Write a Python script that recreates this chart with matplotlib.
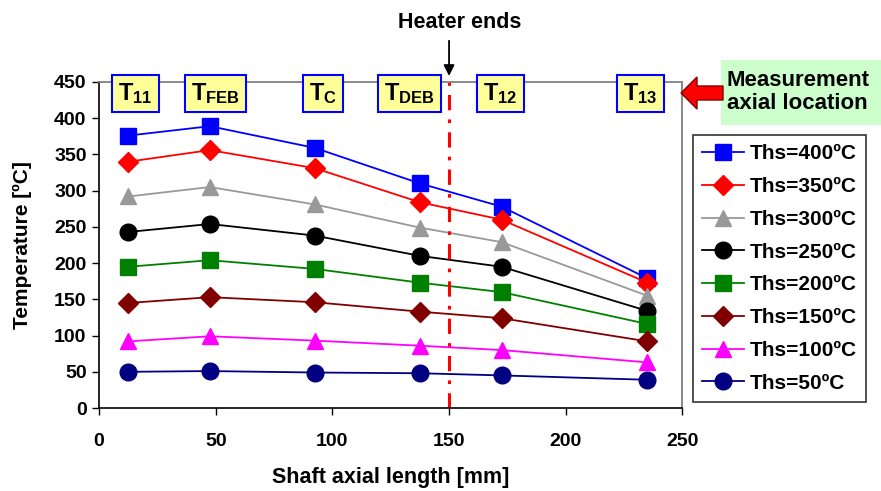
import numpy as np
import matplotlib
matplotlib.use("Agg")
import matplotlib.pyplot as plt
from matplotlib.patches import FancyArrow

plt.rcParams['font.family'] = ['Liberation Sans', 'DejaVu Sans']
plt.rcParams['font.weight'] = 'bold'
plt.rcParams['mathtext.fontset'] = 'custom'
plt.rcParams['mathtext.rm'] = 'Liberation Sans:bold'
plt.rcParams['mathtext.bf'] = 'Liberation Sans:bold'
plt.rcParams['mathtext.it'] = 'Liberation Sans:bold'

# axial positions of the thermocouples [mm]
axial_pos = [12.5, 47.5, 92.5, 137.5, 172.5, 235]

# measured temperatures for each heater setpoint [degC]
t_400 = [376, 389, 359, 310, 278, 179]
t_350 = [340, 356, 331, 284, 260, 173]
t_300 = [292, 305, 281, 249, 229, 155]
t_250 = [243, 254, 238, 210, 195, 134]
t_200 = [195, 204, 192, 173, 160, 116]
t_150 = [145, 153, 146, 133, 124, 92]
t_100 = [92, 99, 93, 86, 80, 63]
t_50 = [50, 51, 49, 48, 45, 39]

series = [
    ("Ths=400ºC", t_400, "#0000ff", "s", 12),
    ("Ths=350ºC", t_350, "#ff0000", "D", 10),
    ("Ths=300ºC", t_300, "#999999", "^", 12),
    ("Ths=250ºC", t_250, "#000000", "o", 12),
    ("Ths=200ºC", t_200, "#008000", "s", 12),
    ("Ths=150ºC", t_150, "#800000", "D", 10),
    ("Ths=100ºC", t_100, "#ff00ff", "^", 12),
    ("Ths=50ºC", t_50, "#000080", "o", 12),
]

# thermocouple tags along the top of the plot
tag_labels = [r"$\mathbf{T_{11}}$", r"$\mathbf{T_{FEB}}$", r"$\mathbf{T_{C}}$",
              r"$\mathbf{T_{DEB}}$", r"$\mathbf{T_{12}}$", r"$\mathbf{T_{13}}$"]
tag_x = [15.5, 50, 96, 133, 172, 232]

heater_end = 150

fig = plt.figure(figsize=(8.81, 4.91), dpi=100)
ax = fig.add_axes([0.1125, 0.169, 0.662, 0.664])

for label, vals, col, mk, ms in series:
    ax.plot(axial_pos, vals, color=col, marker=mk, markersize=ms, lw=1.3,
            markeredgecolor=col, label=label, clip_on=False)

ax.axvline(heater_end, color="#ff0000", lw=2.2, ls=(0, (5, 3, 1.2, 3)))

ax.set_xlim(0, 250)
ax.set_ylim(0, 450)
ax.set_xticks(np.arange(0, 251, 50))
ax.set_yticks(np.arange(0, 451, 50))
ax.tick_params(direction="out", length=5, width=1, labelsize=14)
ax.tick_params(axis="x", pad=13)
ax.tick_params(axis="y", pad=4)
for side in ("top", "right"):
    ax.spines[side].set_color("#808080")
    ax.spines[side].set_linewidth(1.3)
for side in ("left", "bottom"):
    ax.spines[side].set_linewidth(1.2)
ax.set_xlabel("Shaft axial length [mm]", fontsize=15.5, fontweight="bold", labelpad=12)
ax.set_ylabel("Temperature [ºC]", fontsize=15, fontweight="bold", labelpad=16)

for lab, xv in zip(tag_labels, tag_x):
    ax.text(xv, 0.965, lab, transform=ax.get_xaxis_transform(), fontsize=17,
            ha="center", va="center", clip_on=False, zorder=5,
            bbox=dict(boxstyle="square,pad=0.26", fc="#ffff99", ec="#0000ff", lw=1.5))

# heater end marker above the plot
fig.text(460 / 881, 0.955, "Heater ends", fontsize=15.5, fontweight="bold", ha="center", va="center")
ax.annotate("", xy=(heater_end, 1.01), xycoords=ax.get_xaxis_transform(),
            xytext=(heater_end, 1.135), textcoords=ax.get_xaxis_transform(),
            arrowprops=dict(arrowstyle="-|>", color="black", lw=1.3, mutation_scale=16))

# measurement location note
fig.patches.append(plt.Rectangle((721 / 881, 1 - 125 / 491), 160 / 881, 65 / 491,
                                 transform=fig.transFigure, fc="#ccffcc", ec="none"))
fig.text(727 / 881, 1 - 92 / 491, "Measurement\naxial location", fontsize=16,
         fontweight="bold", ha="left", va="center", linespacing=1.12)
fig.patches.append(FancyArrow(723 / 881, 1 - 93 / 491, -42 / 881, 0, width=14 / 491,
                              head_width=32 / 491, head_length=16 / 881,
                              length_includes_head=True, transform=fig.transFigure,
                              fc="#ff0000", ec="#800000", lw=1.0))

leg = fig.legend(loc="upper left", bbox_to_anchor=(693 / 881, 1 - 135 / 491),
                 fontsize=15, frameon=True, fancybox=False, edgecolor="black",
                 handlelength=2.0, borderpad=0.45, labelspacing=0.66, handletextpad=0.25,
                 borderaxespad=0)
leg.get_frame().set_linewidth(1.2)

fig.savefig("out.png", dpi=100)
